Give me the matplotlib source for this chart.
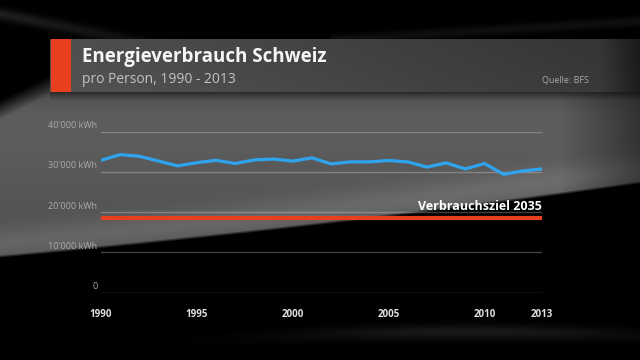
import numpy as np
import matplotlib
matplotlib.use("Agg")
import matplotlib.pyplot as plt

plt.rcParams['font.family'] = ['Open Sans', 'DejaVu Sans']

# data
years = list(range(1990, 2014))
verbrauch = [32900, 34300, 33900, 32700, 31500, 32300, 32900, 32100, 33000, 33200,
             32700, 33500, 32000, 32500, 32500, 32850, 32500, 31200, 32250, 30750,
             32100, 29400, 30250, 30750]
ziel_2035 = 18500
y_ticks = [0, 10000, 20000, 30000, 40000]
y_labels = ["0", "10'000 kWh", "20'000 kWh", "30'000 kWh", "40'000 kWh"]
x_ticks = [1990, 1995, 2000, 2005, 2010, 2013]

W, H = 640, 360
fig = plt.figure(figsize=(6.4, 3.6), dpi=100)
fig.patch.set_facecolor('black')

# background (dark studio look)
yy, xx = np.mgrid[0:H, 0:W] + 0.5
bnd = 258 - 0.09 * xx - 0.00004 * xx ** 2
g = 0.38 - 0.05 * (yy - 110) / 100
g = g + 0.08 * np.exp(-((bnd - 14 - yy) / 16) ** 2)
g = g * (1 - 0.45 * np.clip((xx - 560) / 80, 0, 1))
top = np.where(xx < 50, 100 - 0.5 * xx, 80)
m = np.clip((bnd - yy) / 3, 0, 1) * np.clip((yy - top) / 20, 0, 1)
shadow = 1 - 0.3 * np.exp(-np.clip(yy - 92, 0, None) / 12)
bg = g * m * shadow
# title band
band = (yy >= 39) & (yy <= 92) & (xx >= 50)
bandval = (0.31 - 0.11 * (xx - 50) / 590 + 0.02 * (yy - 39) / 53)
bandval = bandval * (1 - 0.5 * np.clip((xx - 600) / 40, 0, 1))
bg = np.where(band, bandval, bg)
# light streaks
bg = bg + 0.12 * np.exp(-((yy - (14 + 0.2 * xx)) / 6) ** 2) * np.clip(1 - xx / 260, 0, 1) * (yy < 39)
bg = bg + 0.06 * np.exp(-((yy - (40 - 0.06 * (xx - 330))) / 5) ** 2) * (xx > 330) * (yy < 39)
bg = bg + 0.10 * np.exp(-((yy - (332 + 0.00012 * (xx - 470) ** 2)) / 7) ** 2) * np.exp(-((xx - 470) / 170) ** 2)
bg = np.clip(bg, 0, 1)

bax = fig.add_axes([0, 0, 1, 1])
bax.imshow(np.dstack([bg, bg, bg]), extent=(0, W, H, 0), aspect='auto', interpolation='bilinear')
bax.set_xlim(0, W)
bax.set_ylim(H, 0)
bax.axis('off')

# header
bax.add_patch(plt.Rectangle((51, 39), 20, 53, color='#e8401f', lw=0))
bax.text(82, 62, "Energieverbrauch Schweiz", color='#f5f5f5', fontsize=13.5,
         fontweight='bold', va='baseline', ha='left')
bax.text(82, 83, "pro Person, 1990 - 2013", color='#c2c2c2', fontsize=10,
         va='baseline', ha='left')
bax.text(589, 83, "Quelle: BFS", color='#a8a8a8', fontsize=6.5, va='baseline', ha='right')

# chart
ax = fig.add_axes([101 / W, 1 - 292.7 / H, (542 - 101) / W, (292.7 - 131.7) / H])
ax.patch.set_alpha(0)
ax.set_xlim(1990, 2013)
ax.set_ylim(0, 40000)
for v in y_ticks:
    ax.axhline(v, color='white', alpha=0.25, lw=1, zorder=1)
ax.axhline(ziel_2035, color='#e8401f', lw=3, zorder=3)
ax.plot(years, verbrauch, color='#2ea4ee', lw=2.3, zorder=4, solid_joinstyle='round')
ax.text(2013, ziel_2035 + 1200, "Verbrauchsziel 2035", color='white', fontsize=9,
        fontweight='bold', ha='right', va='bottom')

for v, lab in zip(y_ticks, y_labels):
    ax.text(-0.008, v + 400, lab, transform=ax.get_yaxis_transform(), color='#aaaaaa',
            fontsize=6.5, ha='right', va='bottom')
ax.set_xticks(x_ticks)
ax.set_xticklabels([str(t) for t in x_ticks], color='#e0e0e0', fontsize=7, fontweight='bold')
ax.tick_params(axis='x', length=0, pad=12)
ax.set_yticks([])
for s in ax.spines.values():
    s.set_visible(False)

fig.savefig('out.png', dpi=100, facecolor='black')
